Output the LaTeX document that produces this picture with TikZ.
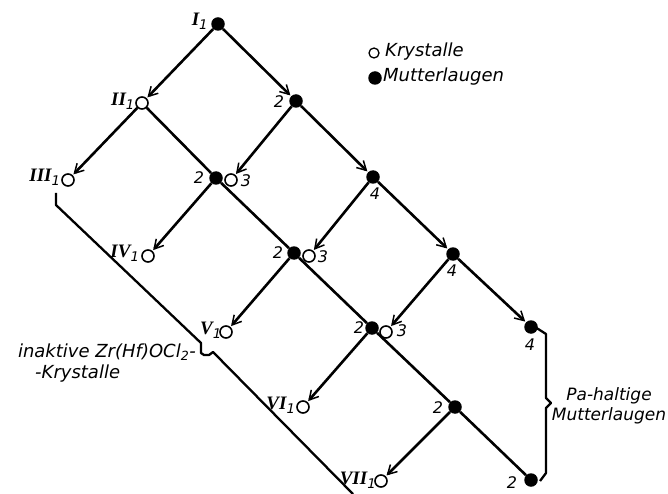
\documentclass[tikz,border=0pt]{standalone}
\usepackage{fontspec}
\usetikzlibrary{arrows.meta}
\newfontfamily\lblfont{DejaVu Sans}
\newfontfamily\romfont{Liberation Serif}
\newcommand{\romlab}[1]{{\romfont\bfseries\itshape #1}\textsubscript{\lblfont\itshape 1}}

\begin{document}
\begin{tikzpicture}[x=1pt,y=-1pt,
  ml/.style={circle,fill=black,inner sep=0pt,minimum size=13.5pt},
  kr/.style={circle,draw=black,fill=white,line width=1.6pt,inner sep=0pt,minimum size=12pt},
  flow/.style={line width=2.6pt,-{Straight Barb[length=9pt,width=10pt,line width=1.5pt]},shorten >=1pt},
  link/.style={line width=2.6pt},
  bracket/.style={line width=2.3pt,line join=round},
  num/.style={font=\lblfont\itshape\fontsize{16}{18}\selectfont,inner sep=0pt},
  rom/.style={font=\fontsize{19}{21}\selectfont,inner sep=0pt},
  txt/.style={font=\lblfont\itshape\fontsize{18}{21}\selectfont,inner sep=0pt}]
\useasboundingbox (0,0) rectangle (668,494);
% crystals (open) and mother liquors (filled)
\node[ml] (I1) at (218,24) {};
\node[kr] (II1) at (142,103) {};
\node[ml] (m2a) at (296,101) {};
\node[kr] (III1) at (68,180) {};
\node[ml] (m2b) at (216,178) {};
\node[kr] (k3a) at (231,180) {};
\node[ml] (m4a) at (373,177) {};
\node[kr] (IV1) at (148,256) {};
\node[ml] (m2c) at (294,253) {};
\node[kr] (k3b) at (309,256) {};
\node[ml] (m4b) at (453,254) {};
\node[kr] (V1) at (226,332) {};
\node[ml] (m2d) at (372,328) {};
\node[kr] (k3c) at (386,332) {};
\node[ml] (m4c) at (531,327) {};
\node[kr] (VI1) at (303,407) {};
\node[ml] (m2e) at (455,407) {};
\node[kr] (VII1) at (381,481) {};
\node[ml] (m2f) at (531,480) {};
% flow lines
\draw[flow] (I1) -- (II1);
\draw[flow] (I1) -- (m2a);
\draw[flow] (II1) -- (III1);
\draw[flow] (m2a) -- (k3a);
\draw[flow] (m2a) -- (m4a);
\draw[flow] (m2b) -- (IV1);
\draw[flow] (m4a) -- (k3b);
\draw[flow] (m4a) -- (m4b);
\draw[flow] (m2c) -- (V1);
\draw[flow] (m4b) -- (k3c);
\draw[flow] (m4b) -- (m4c);
\draw[flow] (m2d) -- (VI1);
\draw[flow] (m2e) -- (VII1);
\draw[link] (II1) -- (m2b);
\draw[link] (m2b) -- (m2c);
\draw[link] (m2c) -- (m2d);
\draw[link] (m2d) -- (m2e);
\draw[link] (m2e) -- (m2f);
% labels
\node[rom] (lI) at (200,21) {\romlab{I}};
\node[rom] (lII) at (123,101) {\romlab{II}};
\node[rom] (lIII) at (45,177) {\romlab{III}};
\node[rom] (lIV) at (125,253) {\romlab{IV}};
\node[rom] (lV) at (211,330) {\romlab{V}};
\node[rom] (lVI) at (281,405) {\romlab{VI}};
\node[rom] (lVII) at (358,480) {\romlab{VII}};
\node[num] (n2a) at (279,102) {2};
\node[num] (n2b) at (199,178) {2};
\node[num] (n3a) at (246,181) {3};
\node[num] (n4a) at (375,194) {4};
\node[num] (n2c) at (278,253) {2};
\node[num] (n3b) at (323,257) {3};
\node[num] (n4b) at (452,271) {4};
\node[num] (n2d) at (359,328) {2};
\node[num] (n3c) at (402,331) {3};
\node[num] (n4c) at (530,345) {4};
\node[num] (n2e) at (438,408) {2};
\node[num] (n2f) at (512,483) {2};
% legend
\node[kr,minimum size=10pt,line width=1.3pt] (lkr) at (374,53) {};
\node[txt,anchor=west] (lkrt) at (385,52) {Krystalle};
\node[ml] (lml) at (375,78) {};
\node[txt,anchor=west] (lmlt) at (383,77) {Mutterlaugen};
% brackets
\draw[bracket] (56,193) -- (56,205) -- (201,343) -- (201,353) -- (204,355) -- (209,355) -- (213,352) -- (353,494);
\node[txt,anchor=east] (ina) at (196,352) {inaktive Zr(Hf)OCl\textsubscript{2}-};
\node[txt,anchor=west] (inb) at (35,374) {-Krystalle};
\draw[bracket] (535,327) -- (546,334) -- (546,398) -- (551,403) -- (546,408) -- (546,473) -- (540,481);
\node[txt,font=\lblfont\itshape\fontsize{17}{20}\selectfont,align=center] (pa) at (609,406) {Pa-haltige\\Mutterlaugen};
\end{tikzpicture}
\end{document}
